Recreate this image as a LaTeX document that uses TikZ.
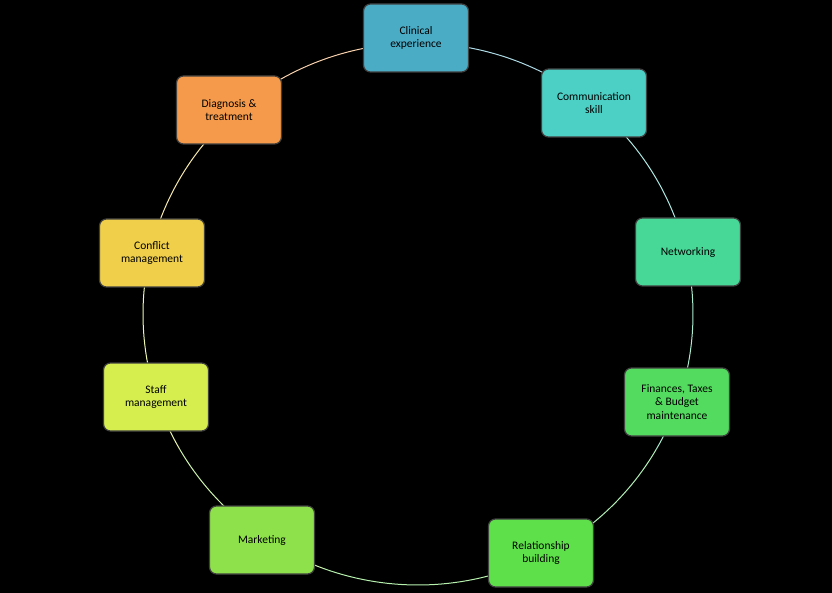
\documentclass[tikz,border=0pt]{standalone}
\usepackage{fontspec}
\setmainfont{Carlito}
\begin{document}
\begin{tikzpicture}[x=1pt,y=-1pt,
  box/.style={draw=black!75,line width=1.2pt,rounded corners=7pt,minimum width=105pt,minimum height=68pt,align=center,font=\fontsize{11.5}{13.5}\selectfont,inner sep=2pt},
  ring/.style={line width=1pt}]
\fill[black] (0,0) rectangle (832,593);
\useasboundingbox (0,0) rectangle (832,593);
\definecolor{c1}{HTML}{4BACC6}\definecolor{c2}{HTML}{4CCFC4}\definecolor{c3}{HTML}{47D898}
\definecolor{c4}{HTML}{52DB5E}\definecolor{c5}{HTML}{5EE04A}\definecolor{c6}{HTML}{8FE14B}
\definecolor{c7}{HTML}{D6EE4E}\definecolor{c8}{HTML}{F0D04A}\definecolor{c9}{HTML}{F59A4A}
\foreach \a/\c in {-90/c1,-50/c2,-10/c3,30/c4,70/c5,110/c6,150/c7,190/c8,230/c9}{
  \pgfmathsetmacro\b{\a+40}
  \draw[ring,draw=\c!45!white,domain=\a:\b,samples=30] plot ({418+275*cos(\x)},{314+271*sin(\x)});
}
\node[box,fill=c1] (n1) at (416,38) {Clinical\\experience};
\node[box,fill=c2] (n2) at (594,103) {Communication\\skill};
\node[box,fill=c3] (n3) at (688,252) {Networking};
\node[box,fill=c4] (n4) at (677,402) {Finances, Taxes\\\& Budget\\maintenance};
\node[box,fill=c5] (n5) at (541,553) {Relationship\\building};
\node[box,fill=c6] (n6) at (262,540) {Marketing};
\node[box,fill=c7] (n7) at (156,397) {Staff\\management};
\node[box,fill=c8] (n8) at (152,253) {Conflict\\management};
\node[box,fill=c9] (n9) at (229,110) {Diagnosis \&\\treatment};
\end{tikzpicture}
\end{document}
